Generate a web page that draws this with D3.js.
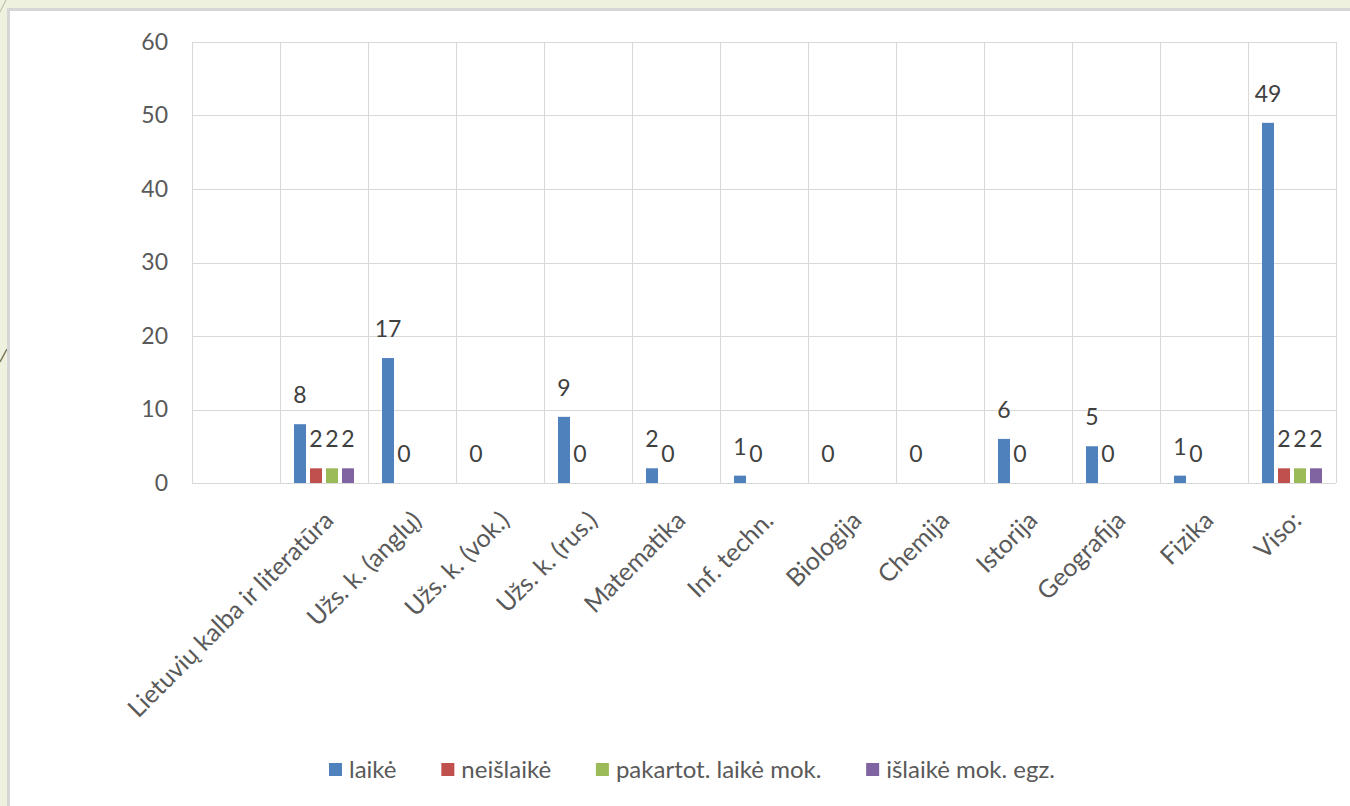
<!DOCTYPE html>
<html>
<head>
<meta charset="utf-8">
<script src="https://cdn.jsdelivr.net/npm/d3@7"></script>
<style>
  body { margin: 0; background: #eef1de; }
  svg { display: block; }
  text { font-family: Lato, "Open Sans", sans-serif; }
</style>
</head>
<body>
<svg id="chart"></svg>
<script>
const categories = ["", "Lietuvių kalba ir literatūra", "Užs. k. (anglų)", "Užs. k. (vok.)", "Užs. k. (rus.)",
  "Matematika", "Inf. techn.", "Biologija", "Chemija", "Istorija", "Geografija", "Fizika", "Viso:"];
const seriesNames = ["laikė", "neišlaikė", "pakartot. laikė mok.", "išlaikė mok. egz."];
const laike = [null, 8, 17, 0, 9, 2, 1, 0, 0, 6, 5, 1, 49];
const neislaike = [null, 2, 0, null, 0, 0, 0, null, null, 0, 0, 0, 2];
const pakartot = [null, 2, null, null, null, null, null, null, null, null, null, null, 2];
const islaikeEgz = [null, 2, null, null, null, null, null, null, null, null, null, null, 2];
const yTicks = [0, 10, 20, 30, 40, 50, 60];
const colors = ["#4f81bd", "#c0504d", "#9bbb59", "#8064a2"];

const seriesValues = [laike, neislaike, pakartot, islaikeEgz];

const W = 1350, H = 806;
const svg = d3.select('#chart').attr('width', W).attr('height', H);

// slide background and white panel
svg.append('rect').attr('width', W).attr('height', H).attr('fill', '#eef1de');
svg.append('line').attr('x1', 0).attr('y1', 362).attr('x2', 7).attr('y2', 349)
  .attr('stroke', '#7a7357').attr('stroke-width', 1.5);
svg.append('line').attr('x1', 0).attr('y1', 12).attr('x2', 6).attr('y2', 0)
  .attr('stroke', '#b8b59c').attr('stroke-width', 1);
svg.append('rect').attr('x', 8.5).attr('y', 9.5).attr('width', W).attr('height', H)
  .attr('fill', '#fff').attr('stroke', '#d6d6d6').attr('stroke-width', 3);

const x0 = d3.scaleBand().domain(categories.map((c, i) => i)).range([192, 1336]);
const x1 = d3.scaleBand().domain(seriesNames).range([0, x0.bandwidth()])
  .paddingInner(0.25).paddingOuter(0.875);
const y = d3.scaleLinear().domain([0, 60]).range([483, 42]);

// horizontal gridlines
svg.append('g').selectAll('line').data(yTicks).enter().append('line')
  .attr('x1', 192).attr('x2', 1336)
  .attr('y1', d => Math.round(y(d)) + 0.5).attr('y2', d => Math.round(y(d)) + 0.5)
  .attr('stroke', '#d9d9d9');

// vertical gridlines at category boundaries
const bounds = categories.map((c, i) => x0(i)).concat([1336]);
svg.append('g').selectAll('line').data(bounds).enter().append('line')
  .attr('x1', d => Math.round(d) + 0.5).attr('x2', d => Math.round(d) + 0.5)
  .attr('y1', y(60)).attr('y2', y(0))
  .attr('stroke', '#d9d9d9');

// y axis labels
const yAxis = svg.append('g')
  .attr('transform', 'translate(178,0)')
  .call(d3.axisLeft(y).tickValues(yTicks).tickSize(0).tickPadding(10));
yAxis.select('.domain').remove();
yAxis.selectAll('text').attr('font-size', 23).attr('fill', '#595959')
  .style('font-family', 'Lato, "Open Sans", sans-serif');

// x axis labels
svg.append('g').selectAll('text').data(categories).enter().append('text')
  .attr('text-anchor', 'end')
  .attr('font-size', 25)
  .attr('fill', '#595959')
  .attr('transform', (d, i) => `translate(${x0(i) + x0.bandwidth() / 2 + 11},${522}) rotate(-45)`)
  .text(d => d);

// bars
const bars = [];
seriesValues.forEach((vals, s) => {
  vals.forEach((v, i) => {
    if (v !== null) bars.push({ s, i, v });
  });
});

svg.append('g').selectAll('rect').data(bars).enter().append('rect')
  .attr('x', d => x0(d.i) + x1(seriesNames[d.s]))
  .attr('width', x1.bandwidth())
  .attr('y', d => y(d.v))
  .attr('height', d => y(0) - y(d.v))
  .attr('fill', d => colors[d.s]);

// data labels
svg.append('g').selectAll('text').data(bars).enter().append('text')
  .attr('x', d => x0(d.i) + x1(seriesNames[d.s]) + x1.bandwidth() / 2)
  .attr('y', d => y(d.v) - 21)
  .attr('text-anchor', 'middle')
  .attr('font-size', 23)
  .attr('fill', '#404040')
  .text(d => d.v);

// legend: start and end, gaps spread evenly
const legend = svg.append('g').attr('transform', 'translate(329,778)');
const items = seriesNames.map((name, s) => {
  const g = legend.append('g');
  g.append('rect').attr('x', 0).attr('y', -15).attr('width', 13).attr('height', 13).attr('fill', colors[s]);
  const t = g.append('text').attr('x', 20).attr('y', 0).attr('font-size', 24).attr('fill', '#595959').text(name);
  return { g, w: 20 + t.node().getComputedTextLength() };
});
const total = d3.sum(items, d => d.w);
const gap = (1055 - 329 - total) / (items.length - 1);
let lx = 0;
items.forEach(it => {
  it.g.attr('transform', `translate(${lx},0)`);
  lx += it.w + gap;
});
</script>
</body>
</html>
